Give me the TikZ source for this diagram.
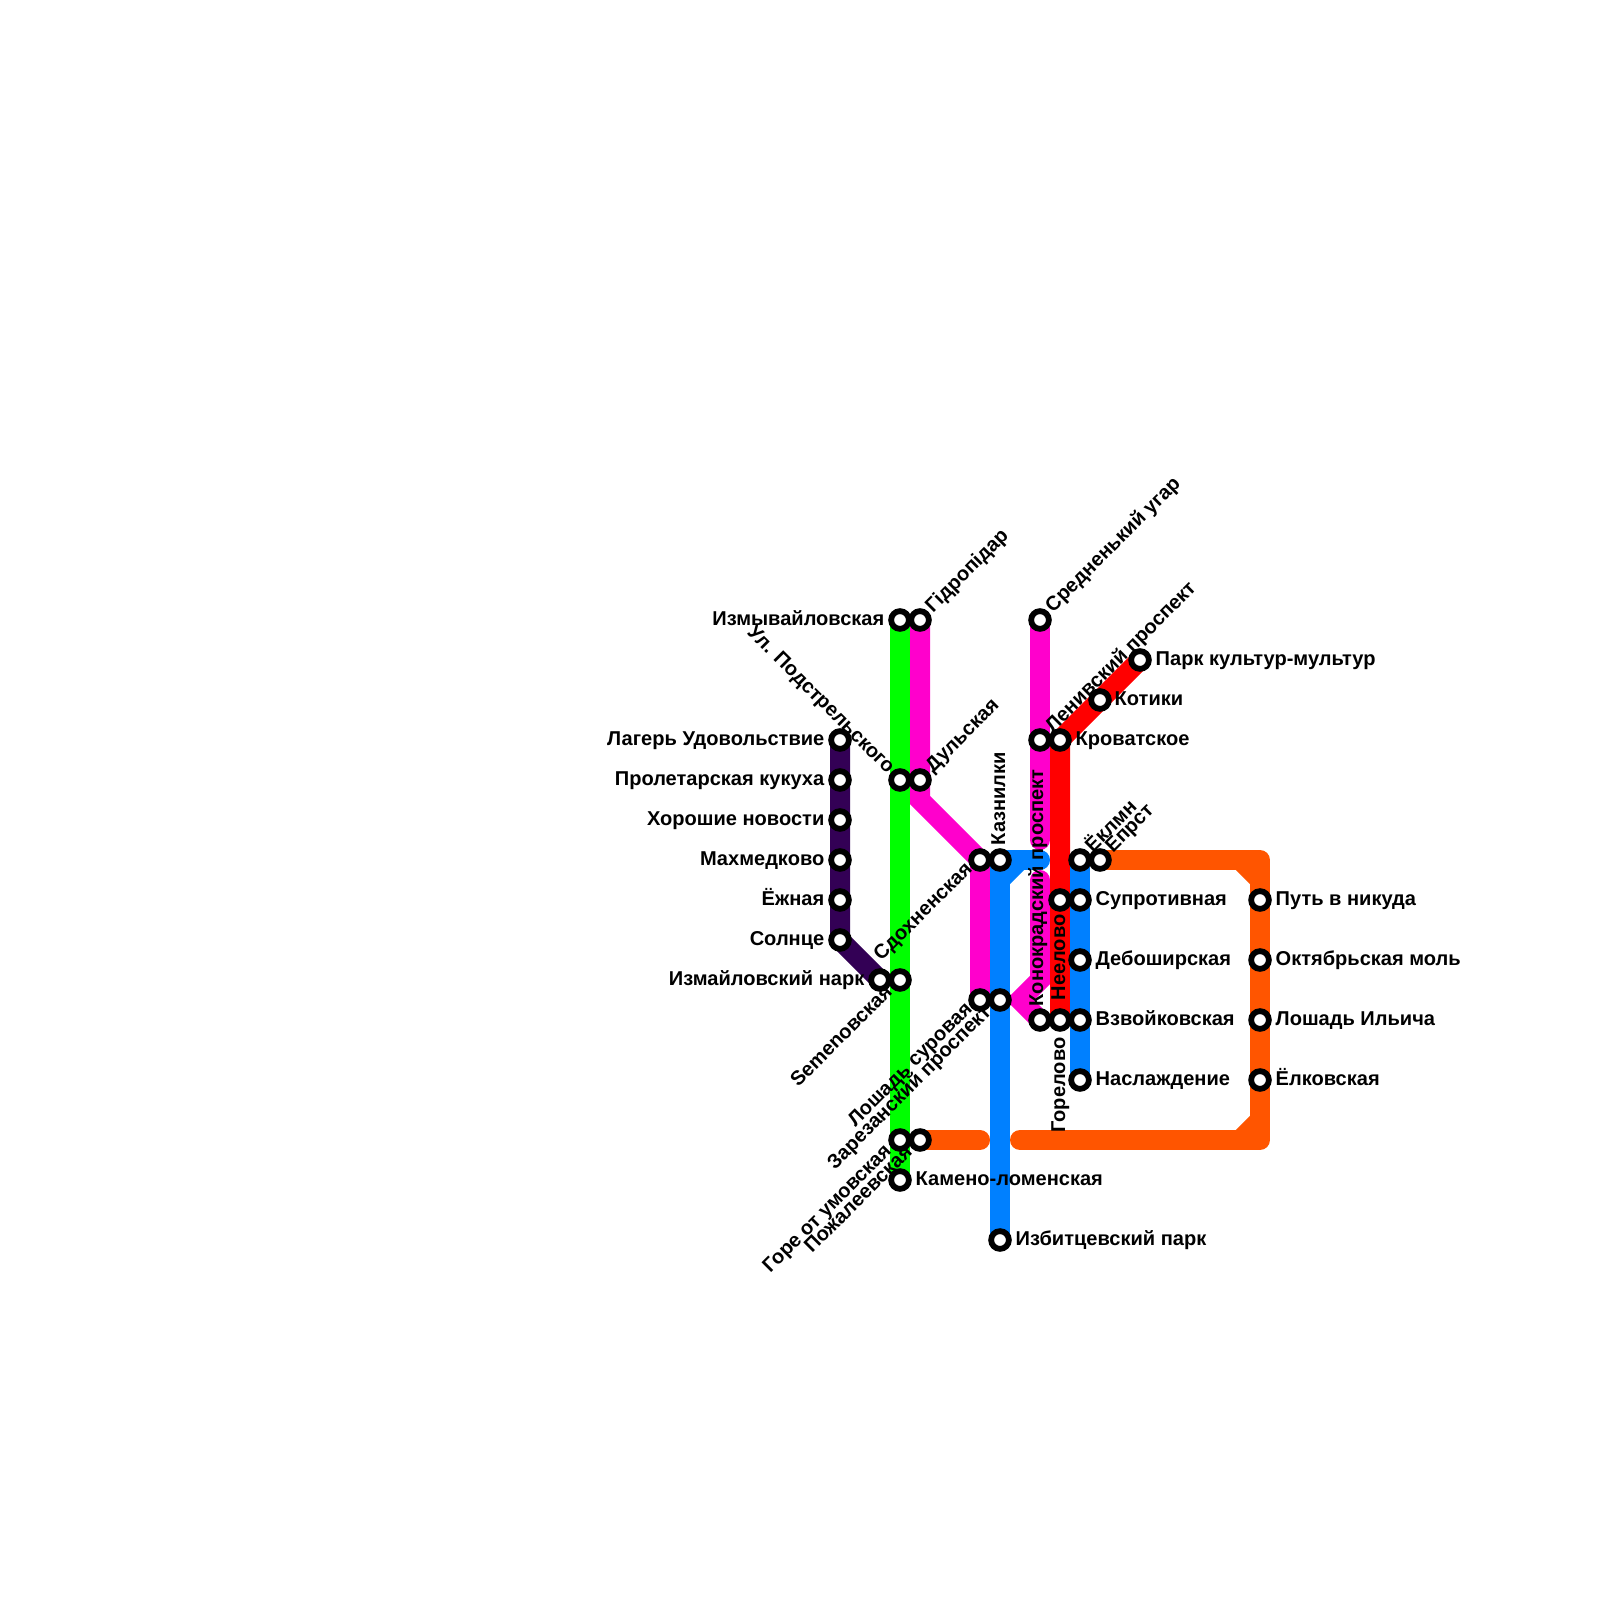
\documentclass[tikz,border=0pt]{standalone}
\usepackage{fontspec}
\setmainfont{Liberation Sans}
\usepackage{tikz}
\usetikzlibrary{backgrounds}
\definecolor{linepurple}{HTML}{330055}
\definecolor{linegreen}{HTML}{00FF00}
\definecolor{linepink}{HTML}{FF00CC}
\definecolor{lineblue}{HTML}{0080FF}
\definecolor{linered}{HTML}{FF0000}
\definecolor{lineorange}{HTML}{FF5500}
\tikzset{
  metro/.style={line width=0.2cm,line join=miter},
  stn/.style={circle,draw=black,fill=white,line width=0.058cm,minimum size=0.177cm,inner sep=0pt,outer sep=0pt},
  lbl/.style={font=\fontsize{5.7pt}{6pt}\selectfont\bfseries,inner sep=0pt,text=black,text height=0.14cm,text depth=0.04cm},
  lblr/.style={lbl,anchor=west},
  lbll/.style={lbl,anchor=east},
  lblup/.style={lbl,anchor=west,rotate=45},
  lbldn/.style={lbl,anchor=east,rotate=45},
  lblback/.style={lbl,anchor=east,rotate=-45},
  lblv/.style={lbl,anchor=west,rotate=90},
  lblvd/.style={lbl,anchor=east,rotate=90},
}
\begin{document}
\begin{tikzpicture}[x=0.01cm,y=-0.01cm]
        \useasboundingbox (0,0) rectangle (1600,1600);

        % stations, left to right
        \node[stn] (lager) at (840,740) {};
        \node[stn] (kukuha) at (840,780) {};
        \node[stn] (novosti) at (840,820) {};
        \node[stn] (mahmed) at (840,860) {};
        \node[stn] (yozhnaya) at (840,900) {};
        \node[stn] (solnce) at (840,940) {};
        \node[stn] (izmpark) at (880,980) {};
        \node[stn] (izmyv) at (900,620) {};
        \node[stn] (podstrel) at (900,780) {};
        \node[stn] (semen) at (900,980) {};
        \node[stn] (gore) at (900,1140) {};
        \node[stn] (kameno) at (900,1180) {};
        \node[stn] (gidro) at (920,620) {};
        \node[stn] (dulskaya) at (920,780) {};
        \node[stn] (pozhal) at (920,1140) {};
        \node[stn] (sdohn) at (980,860) {};
        \node[stn] (suroval) at (980,1000) {};
        \node[stn] (kaznilki) at (1000,860) {};
        \node[stn] (zarez) at (1000,1000) {};
        \node[stn] (izbit) at (1000,1240) {};
        \node[stn] (sredn) at (1040,620) {};
        \node[stn] (leniv) at (1040,740) {};
        \node[stn] (konokr) at (1040,1020) {};
        \node[stn] (krovat) at (1060,740) {};
        \node[stn] (neelovo) at (1060,900) {};
        \node[stn] (gorelovo) at (1060,1020) {};
        \node[stn] (yoklmn) at (1080,860) {};
        \node[stn] (suprot) at (1080,900) {};
        \node[stn] (debosh) at (1080,960) {};
        \node[stn] (vzvoy) at (1080,1020) {};
        \node[stn] (naslazh) at (1080,1080) {};
        \node[stn] (kotiki) at (1100,700) {};
        \node[stn] (eprst) at (1100,860) {};
        \node[stn] (kultur) at (1140,660) {};
        \node[stn] (putnik) at (1260,900) {};
        \node[stn] (oktmol) at (1260,960) {};
        \node[stn] (loshil) at (1260,1020) {};
        \node[stn] (yolk) at (1260,1080) {};

        % bends
        \coordinate (pinkbend) at (920,800);
        \coordinate (pinkfork) at (1040,980);
        \coordinate (pinktip) at (1020,1000);
        \coordinate (pinkend) at (1040,840);
        \coordinate (pinkstart) at (1040,880);
        \coordinate (blueend) at (1040,860);
        \coordinate (bluediaga) at (1020,860);
        \coordinate (bluediagb) at (1000,880);
        \coordinate (orangea) at (1260,860);
        \coordinate (orangeb) at (1260,1140);
        \coordinate (orangec) at (1020,1140);
        \coordinate (oranged) at (980,1140);
        \coordinate (orangeca) at (1240,860);
        \coordinate (orangecb) at (1260,880);
        \coordinate (orangecc) at (1260,1120);
        \coordinate (orangecd) at (1240,1140);

        % lines go under the stations
        \begin{scope}[on background layer]
        \draw[metro,linepurple] (lager.center) -- (solnce.center) -- (izmpark.center);
        \draw[metro,linegreen] (izmyv.center) -- (kameno.center);
        \draw[metro,linepink] (gidro.center) -- (pinkbend) -- (sdohn.center) -- (suroval.center);
        \draw[metro,linepink,line cap=round] (sredn.center) -- (pinkend);
        \draw[metro,linepink,line cap=round] (pinkstart) -- (pinkfork) -- (pinktip) -- (konokr.center);
        \draw[metro,linered] (kultur.center) -- (krovat.center) -- (gorelovo.center);
        \draw[metro,lineblue] (yoklmn.center) -- (naslazh.center);
        \draw[metro,lineblue] (kaznilki.center) -- (izbit.center);
        \draw[metro,lineblue,line cap=round] (kaznilki.center) -- (blueend);
        \draw[metro,lineblue] (bluediaga) -- (bluediagb);
        \draw[metro,lineorange,line join=round,line cap=round] (eprst.center) -- (orangea) -- (orangeb) -- (orangec);
        \draw[metro,lineorange] (orangeca) -- (orangecb);
        \draw[metro,lineorange] (orangecc) -- (orangecd);
        \draw[metro,lineorange,line cap=round] (pozhal.center) -- (oranged);
        \end{scope}

        % labels
        \node[lbll] (lagerlbl) at (825,740) {Лагерь Удовольствие};
        \node[lbll] (kukuhalbl) at (825,780) {Пролетарская кукуха};
        \node[lbll] (novostilbl) at (825,820) {Хорошие новости};
        \node[lbll] (mahmedlbl) at (825,860) {Махмедково};
        \node[lbll] (yozhnayalbl) at (825,900) {Ёжная};
        \node[lbll] (solncelbl) at (825,940) {Солнце};
        \node[lbll] (izmparklbl) at (865,980) {Измайловский нарк};
        \node[lbll] (izmyvlbl) at (885,620) {Измывайловская};
        \node[lblback] (podstrellbl) at (891,771) {Ул. Подстрельского};
        \node[lbldn] (semenlbl) at (890,989) {Semenовская};
        \node[lbldn] (gorelbl) at (889,1148) {Горе от умовская};
        \node[lblr] (kamenolbl) at (915,1180) {Камено-ломенская};
        \node[lblup] (gidrolbl) at (929,610) {Гідропідар};
        \node[lblup] (dulskayalbl) at (929,770) {Дульская};
        \node[lbldn] (pozhallbl) at (910,1149) {Пожалеевская};
        \node[lbldn] (sdohnlbl) at (970,866) {Сдохненская};
        \node[lbldn] (surovallbl) at (970,1006) {Лошадь суровая};
        \node[lblv] (kaznilkilbl) at (1000,846) {Казнилки};
        \node[lbldn] (zarezlbl) at (989,1009) {Зарезанский проспект};
        \node[lblr] (izbitlbl) at (1015,1240) {Избитцевский парк};
        \node[lblup] (srednlbl) at (1049,610) {Средненький угар};
        \node[lblup] (levivlbl) at (1049,730) {Ленивский проспект};
        \node[lblv] (konokrlbl) at (1038,1007) {Конокрадский проспект};
        \node[lblr] (krovatlbl) at (1075,740) {Кроватское};
        \node[lblv] (neelovolbl) at (1060,1001) {Неелово};
        \node[lblvd] (gorelovolbl) at (1060,1037) {Горелово};
        \node[lblup] (yoklmnlbl) at (1089,850) {Ёклмн};
        \node[lblr] (suprotlbl) at (1095,900) {Супротивная};
        \node[lblr] (deboshlbl) at (1095,960) {Дебоширская};
        \node[lblr] (vzvoylbl) at (1095,1020) {Взвойковская};
        \node[lblr] (naslazhlbl) at (1095,1080) {Наслаждение};
        \node[lblr] (kotikilbl) at (1114,700) {Котики};
        \node[lblup] (eprstlbl) at (1109,850) {Епрст};
        \node[lblr] (kulturlbl) at (1155,660) {Парк культур-мультур};
        \node[lblr] (putniklbl) at (1275,900) {Путь в никуда};
        \node[lblr] (oktmollbl) at (1275,960) {Октябрьская моль};
        \node[lblr] (loshillbl) at (1275,1020) {Лошадь Ильича};
        \node[lblr] (yolklbl) at (1275,1080) {Ёлковская};
      \end{tikzpicture}
\end{document}
